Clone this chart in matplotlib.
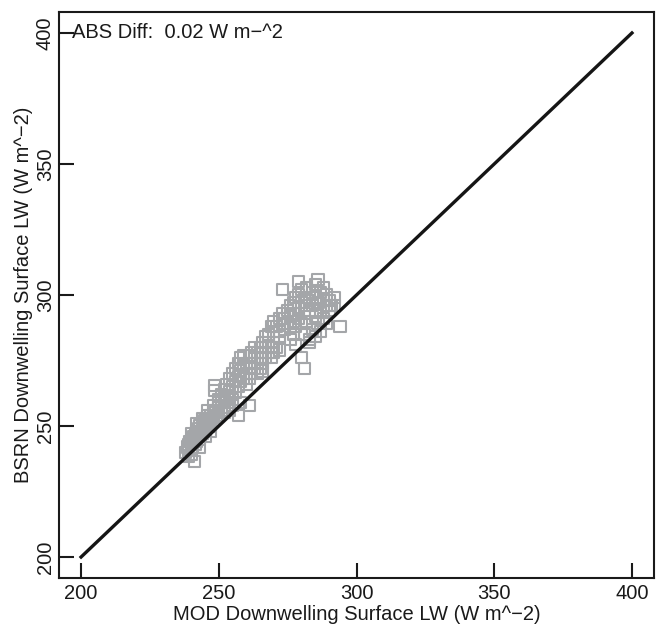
import matplotlib
matplotlib.use("Agg")
import matplotlib.pyplot as plt

# Scatter values (W m^-2)
lower_x = [238, 238.5, 239, 239, 239.5, 240, 240, 240.5, 240.5, 241,
           241, 241.5, 241.5, 242, 242, 242, 242.5, 242.5, 243, 243,
           243, 243.5, 243.5, 244, 244, 244, 244.5, 244.5, 245, 245,
           245, 245.5, 245.5, 246, 246, 246, 246.5, 246.5, 247, 247,
           247, 247.5, 248, 248, 248, 248.5, 249, 249, 250, 250,
           251, 252, 253, 254, 241.3, 240, 240, 242, 244, 246,
           248, 250, 252, 251, 253, 255, 239, 243, 245, 247]
lower_y = [240, 242, 241, 243, 244, 241, 243, 245, 242, 244,
           246, 243, 247, 245, 248, 244, 246, 249, 247, 245,
           250, 248, 246, 249, 247, 251, 250, 248, 250, 252,
           248, 251, 253, 250, 252, 254, 251, 253, 252, 254,
           250, 253, 254, 252, 256, 255, 254, 256, 255, 257,
           256, 255, 257, 256, 236.5, 239, 247, 251, 253, 256,
           258, 259, 257, 260, 259, 258, 238.5, 242, 246, 248]

mid_x = [250, 251, 252, 252, 253, 253, 254, 254, 255, 255,
         255, 256, 256, 256, 257, 257, 257, 258, 258, 258,
         259, 259, 259, 260, 260, 260, 261, 261, 261, 262,
         262, 262, 263, 263, 263, 264, 264, 265, 265, 265,
         266, 266, 266, 267, 267, 267, 268, 268, 269, 269,
         270, 270, 271, 272, 272, 248.5, 248.5, 258, 261, 257,
         264, 266]
mid_y = [260, 262, 259, 264, 261, 266, 263, 268, 265, 270,
         260, 267, 272, 263, 269, 274, 265, 271, 276, 267,
         273, 268, 277, 270, 274, 266, 272, 277, 268, 270,
         274, 278, 272, 276, 280, 274, 278, 276, 272, 280,
         278, 274, 282, 280, 276, 284, 278, 282, 280, 276,
         282, 278, 280, 284, 279, 263.5, 265.5, 259, 258, 254,
         270, 271]

upper_x = [268, 269, 270, 270, 271, 272, 272, 273, 273, 273,
           274, 274, 275, 275, 276, 276, 276, 277, 277, 277,
           278, 278, 278, 279, 279, 279, 279, 280, 280, 280,
           281, 281, 281, 282, 282, 282, 283, 283, 283, 284,
           284, 284, 285, 285, 285, 286, 286, 286, 287, 287,
           287, 288, 288, 288, 289, 289, 290, 290, 291, 292,
           292, 294, 281, 280, 278, 276, 283, 285, 289]
upper_y = [285, 288, 286, 290, 288, 286, 291, 289, 293, 302,
           287, 291, 289, 294, 288, 292, 296, 290, 297, 285,
           293, 299, 288, 305, 291, 295, 300, 289, 297, 302,
           293, 299, 285, 296, 303, 290, 298, 282, 294, 301,
           287, 296, 299, 304, 292, 306, 297, 289, 301, 294,
           286, 303, 298, 291, 296, 300, 294, 298, 296, 296,
           299, 288, 272, 276, 281, 283, 283, 284, 289]

one_to_one = [200, 400]
ticks = [200, 250, 300, 350, 400]
abs_diff = 0.02

plt.rcParams['font.family'] = ['Liberation Sans', 'DejaVu Sans']

fig = plt.figure(figsize=(6.61, 6.25), dpi=100)
ax = fig.add_axes([0.0893, 0.0752, 0.9001, 0.9056])

gray = '#a4a6a9'
for xs, ys in [(lower_x, lower_y), (mid_x, mid_y), (upper_x, upper_y)]:
    ax.scatter(xs, ys, marker='s', s=64, facecolors='none',
               edgecolors=gray, linewidths=1.5, zorder=2)

# 1:1 line
ax.plot(one_to_one, one_to_one, color='#151515', lw=2.4, zorder=3)

ax.set_xlim(192, 408)
ax.set_ylim(192, 408)
ax.set_xticks(ticks)
ax.set_yticks(ticks)
ax.set_xticklabels([str(t) for t in ticks])
ax.set_yticklabels([str(t) for t in ticks], rotation=90, va='center')
ax.tick_params(direction='in', length=11, width=1.5, labelsize=14.5,
               colors='#1a1a1a')
ax.tick_params(axis='x', pad=4)
ax.tick_params(axis='y', pad=3)
for sp in ax.spines.values():
    sp.set_linewidth(1.5)
    sp.set_color('#1a1a1a')

ax.set_xlabel('MOD Downwelling Surface LW (W m^\u22122)', fontsize=14.5,
              labelpad=2, color='#1a1a1a')
ax.set_ylabel('BSRN Downwelling Surface LW (W m^\u22122)', fontsize=14.5,
              labelpad=2, color='#1a1a1a')

ax.text(196.7, 400, 'ABS Diff:  %.2f W m\u2212^2' % abs_diff, fontsize=14.5,
        ha='left', va='center', color='#1a1a1a')

fig.savefig('out.png', dpi=100)
